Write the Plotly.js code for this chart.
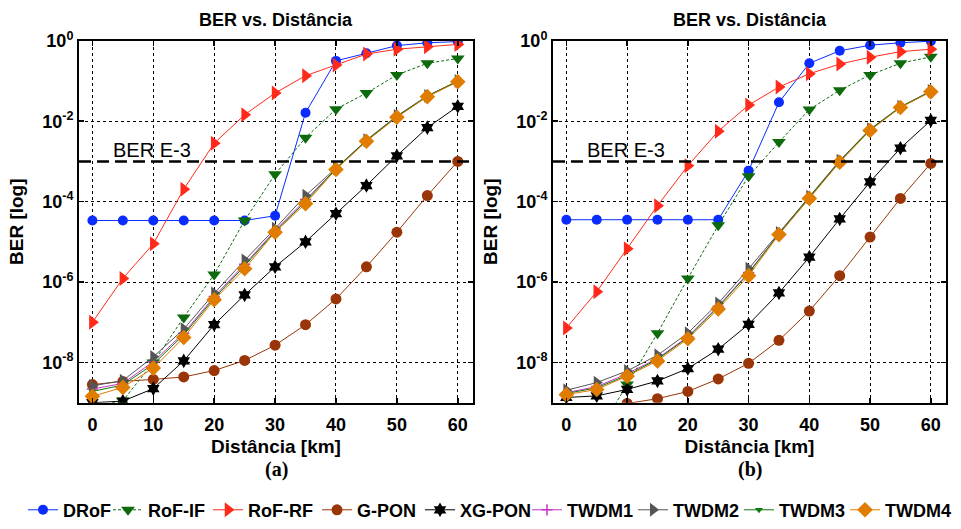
<!DOCTYPE html>
<html>
<head>
<meta charset="utf-8">
<script src="https://cdn.plot.ly/plotly-3.0.1.min.js"></script>
<style>html,body{margin:0;padding:0;background:#fff;}#chart{width:961px;height:529px;}</style>
</head>
<body>
<div id="chart"></div>
<script>
// Distance [km]
const distance = [0, 5, 10, 15, 20, 25, 30, 35, 40, 45, 50, 55, 60];

// BER values, stored as log10(BER) — panel (a)
const drofA   = [-4.47,-4.47,-4.47,-4.47,-4.47,-4.47,-4.35,-1.79,-0.50,-0.31,-0.12,-0.05,-0.02];
const rofIfA  = [-9.10,-8.95,-8.00,-6.88,-5.81,-4.47,-3.32,-2.41,-1.70,-1.30,-0.85,-0.56,-0.44];
const rofRfA  = [-7.00,-5.91,-5.05,-3.69,-2.55,-1.84,-1.30,-0.87,-0.60,-0.33,-0.21,-0.15,-0.09];
const gponA   = [-8.55,-8.47,-8.42,-8.36,-8.20,-7.95,-7.57,-7.06,-6.42,-5.62,-4.76,-3.85,-3.00];
const xgponA  = [-9.00,-8.96,-8.65,-7.96,-7.06,-6.32,-5.62,-5.00,-4.30,-3.60,-2.86,-2.16,-1.63];
const twdm1A  = [-8.66,-8.52,-7.98,-7.27,-6.36,-5.56,-4.72,-3.95,-3.19,-2.49,-1.89,-1.38,-1.01];
const twdm2A  = [-8.58,-8.45,-7.86,-7.17,-6.28,-5.46,-4.67,-3.85,-3.17,-2.47,-1.87,-1.37,-1.00];
const twdm3A  = [-8.72,-8.56,-8.04,-7.31,-6.40,-5.60,-4.74,-4.00,-3.18,-2.48,-1.88,-1.38,-1.00];
const twdm4A  = [-8.84,-8.62,-8.14,-7.38,-6.44,-5.67,-4.76,-4.05,-3.20,-2.50,-1.90,-1.39,-1.02];

// panel (b)
const drofB   = [-4.45,-4.45,-4.45,-4.45,-4.45,-4.45,-3.23,-1.53,-0.56,-0.25,-0.11,-0.05,-0.01];
const rofIfB  = [-10.2,-9.80,-8.55,-7.27,-5.91,-4.59,-3.37,-2.52,-1.71,-1.23,-0.85,-0.56,-0.40];
const rofRfB  = [-7.14,-6.24,-5.17,-4.10,-3.11,-2.25,-1.60,-1.15,-0.82,-0.58,-0.41,-0.27,-0.21];
const gponB   = [-9.35,-9.20,-9.02,-8.90,-8.72,-8.41,-8.02,-7.45,-6.72,-5.84,-4.88,-3.92,-3.05];
const xgponB  = [-8.87,-8.83,-8.67,-8.46,-8.15,-7.67,-7.05,-6.27,-5.38,-4.43,-3.51,-2.67,-1.98];
const twdm1B  = [-8.75,-8.60,-8.28,-7.90,-7.36,-6.60,-5.76,-4.80,-3.90,-3.00,-2.21,-1.65,-1.26];
const twdm2B  = [-8.69,-8.50,-8.21,-7.82,-7.27,-6.53,-5.67,-4.78,-3.88,-2.98,-2.20,-1.64,-1.25];
const twdm3B  = [-8.77,-8.63,-8.32,-7.92,-7.38,-6.62,-5.78,-4.80,-3.90,-2.99,-2.21,-1.65,-1.26];
const twdm4B  = [-8.80,-8.67,-8.34,-7.96,-7.41,-6.67,-5.84,-4.82,-3.92,-3.02,-2.23,-1.66,-1.27];

const seriesNames = ['DRoF','RoF-IF','RoF-RF','G-PON','XG-PON','TWDM1','TWDM2','TWDM3','TWDM4'];
const panelA = [drofA, rofIfA, rofRfA, gponA, xgponA, twdm1A, twdm2A, twdm3A, twdm4A];
const panelB = [drofB, rofIfB, rofRfB, gponB, xgponB, twdm1B, twdm2B, twdm3B, twdm4B];

const berThreshold = 1e-3;
const yTickVals = [1, 1e-2, 1e-4, 1e-6, 1e-8];
const yTickText = ['10<sup>0</sup>','10<sup>-2</sup>','10<sup>-4</sup>','10<sup>-6</sup>','10<sup>-8</sup>'];
const xTickVals = [0, 10, 20, 30, 40, 50, 60];
const xRange = [-2.2, 62.5];

const styles = [
  {color:'#0a2cff', symbol:'circle', size:10, dash:'solid'},
  {color:'#0d6b0d', symbol:'triangle-down', size:12, dash:'3px,2px'},
  {color:'#ff2a1a', symbol:'triangle-right', size:13, dash:'solid'},
  {color:'#9a3508', symbol:'circle', size:11, dash:'solid'},
  {color:'#000000', symbol:'hexagram', size:11, dash:'solid'},
  {color:'#c634c6', symbol:'cross-thin', size:8, dash:'solid'},
  {color:'#555555', symbol:'triangle-right', size:12, dash:'solid'},
  {color:'#0d7a0d', symbol:'triangle-down', size:7, dash:'solid'},
  {color:'#e07c00', symbol:'diamond', size:12, dash:'solid'}
];

const W = 961, H = 529;
// legend symbol centres (px) for the one-row legend
const legendCenters = [48, 133, 233, 342, 445, 552, 658, 764, 870];
const legendIds = seriesNames.map((_, i) => i === 0 ? 'legend' : 'legend' + (i + 1));

const traces = [];
function addPanel(panel, xa, ya, showLegend) {
  panel.forEach((vals, i) => {
    const s = styles[i];
    traces.push({
      type:'scatter', mode:'lines+markers',
      x: distance, y: vals.map(v => Math.pow(10, v)),
      xaxis: xa, yaxis: ya,
      name: seriesNames[i], showlegend: showLegend, legend: legendIds[i],
      line: {color: s.color, width: 1, dash: s.dash},
      marker: {color: s.color, symbol: s.symbol, size: s.size,
               line: {color: s.color, width: s.symbol === 'cross-thin' ? 1.5 : 0}},
      cliponaxis: true
    });
  });
  // BER = 1e-3 threshold line
  traces.push({
    type:'scatter', mode:'lines', x: xRange, y: [berThreshold, berThreshold],
    xaxis: xa, yaxis: ya, showlegend: false, hoverinfo: 'skip',
    line: {color:'#000', width: 2.5, dash: '12px,6px'}
  });
}
addPanel(panelA, 'x', 'y', true);
addPanel(panelB, 'x2', 'y2', false);

const fontMain = 'Liberation Sans, Arial, Helvetica, sans-serif';

function xAxis(domain, anchor) {
  return {
    domain: domain, anchor: anchor, range: xRange,
    tickvals: xTickVals, ticks: 'inside', ticklen: 5, tickwidth: 1.5, tickcolor: '#000',
    showline: true, linewidth: 2, linecolor: '#000', mirror: 'allticks',
    showgrid: true, gridcolor: '#000', gridwidth: 1, griddash: 'dot',
    zeroline: false, automargin: false, ticklabelstandoff: 5,
    tickfont: {family: fontMain, size: 18, color: '#000', weight: 700},
    title: {text: 'Distância [km]', font: {family: fontMain, size: 19, color: '#000', weight: 700}, standoff: 5}
  };
}
function yAxis(domain, anchor) {
  return {
    domain: domain, anchor: anchor, type: 'log', range: [-9, 0],
    tickvals: yTickVals, ticktext: yTickText,
    ticks: 'inside', ticklen: 5, tickwidth: 1.5, tickcolor: '#000',
    showline: true, linewidth: 2, linecolor: '#000', mirror: 'allticks',
    showgrid: true, gridcolor: '#000', gridwidth: 1, griddash: 'dot',
    zeroline: false, automargin: false,
    tickfont: {family: fontMain, size: 18, color: '#000', weight: 700},
    title: {text: 'BER [log]', font: {family: fontMain, size: 19, color: '#000', weight: 700}, standoff: 14}
  };
}

const yDom = [1 - 405 / H, 1 - 41 / H];
const xDomA = [79 / W, 473 / W];
const xDomB = [553 / W, 946 / W];

const layout = {
  width: W, height: H,
  margin: {l: 0, r: 0, t: 0, b: 0, pad: 0},
  paper_bgcolor: '#fff', plot_bgcolor: '#fff',
  font: {family: fontMain, color: '#000'},
  xaxis: xAxis(xDomA, 'y'),
  yaxis: yAxis(yDom, 'x'),
  xaxis2: xAxis(xDomB, 'y2'),
  yaxis2: yAxis(yDom, 'x2'),
  showlegend: true,
  annotations: [
    {text:'BER vs. Distância', xref:'x domain', yref:'paper', x:0.5, y:1 - 20 / H, showarrow:false,
     xanchor:'center', yanchor:'middle', font:{family: fontMain, size:18, weight:700, color:'#000'}},
    {text:'BER vs. Distância', xref:'x2 domain', yref:'paper', x:0.5, y:1 - 20 / H, showarrow:false,
     xanchor:'center', yanchor:'middle', font:{family: fontMain, size:18, weight:700, color:'#000'}},
    {text:'BER E-3', xref:'x', yref:'y', x:9.8, y:-2.71, showarrow:false, xanchor:'center', yanchor:'middle',
     font:{family: fontMain, size:20, color:'#000'}},
    {text:'BER E-3', xref:'x2', yref:'y2', x:9.8, y:-2.71, showarrow:false, xanchor:'center', yanchor:'middle',
     font:{family: fontMain, size:20, color:'#000'}},
    {text:'(a)', xref:'x domain', yref:'paper', x:0.5, y:1 - 472 / H, showarrow:false, xanchor:'center', yanchor:'middle',
     font:{family:'Liberation Serif, Times New Roman, serif', size:20, weight:700, color:'#000'}},
    {text:'(b)', xref:'x2 domain', yref:'paper', x:0.5, y:1 - 472 / H, showarrow:false, xanchor:'center', yanchor:'middle',
     font:{family:'Liberation Serif, Times New Roman, serif', size:20, weight:700, color:'#000'}}
  ]
};

legendIds.forEach((id, i) => {
  layout[id] = {
    orientation: 'h', x: (legendCenters[i] - 25) / W, xanchor: 'left',
    y: 1 - 513 / H, yanchor: 'middle',
    font: {family: fontMain, size: 18, color: '#000', weight: 700},
    itemwidth: 30, bgcolor: 'rgba(0,0,0,0)', borderwidth: 0
  };
});

Plotly.newPlot('chart', traces, layout, {displayModeBar: false, staticPlot: true});
</script>
</body>
</html>
